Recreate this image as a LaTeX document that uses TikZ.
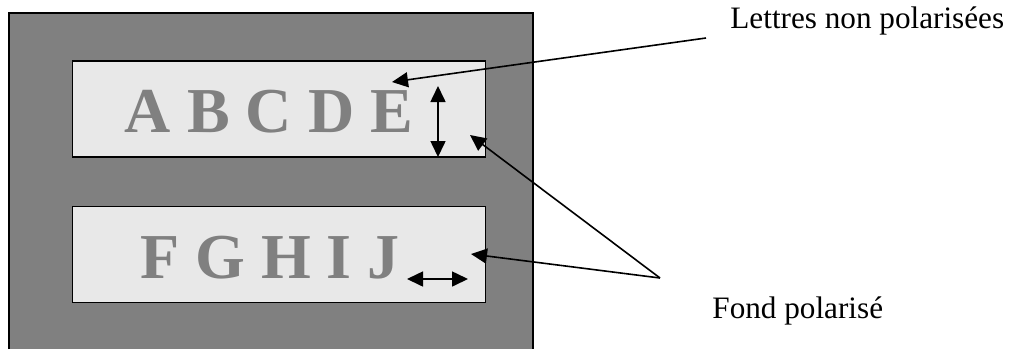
\documentclass[tikz,border=0pt]{standalone}
\usepackage{fontspec}
\setmainfont{Liberation Serif}
\usetikzlibrary{arrows.meta}
\definecolor{darkbg}{RGB}{128,128,128}
\definecolor{panelbg}{RGB}{232,232,232}
\definecolor{lettergray}{RGB}{128,128,128}
\tikzset{
  border/.style={draw=black, line width=0.75pt},
  panel/.style={border, fill=panelbg, minimum width=206.5pt, minimum height=48pt, inner sep=0pt},
  letters/.style={text=lettergray, font=\fontsize{32}{32}\selectfont\bfseries, inner sep=0pt, anchor=base},
  caption/.style={font=\fontsize{15.6}{16}\selectfont, inner sep=0pt, anchor=base west},
  tip/.style={-{Triangle[length=8pt,width=7.5pt]}, line width=0.8pt},
  dbl/.style={{Triangle[length=8pt,width=7.5pt]}-{Triangle[length=8pt,width=7.5pt]}, line width=0.8pt}
}
\begin{document}
\begin{tikzpicture}[x=0.5pt,y=-0.5pt]
\useasboundingbox (0,0) rectangle (1010,349);
% outer dark screen
\fill[darkbg] (9,13) rectangle (533,349);
\draw[border] (9,349) -- (9,13) -- (533,13) -- (533,349);
% panels
\node[panel] (toppanel) at (279,109) {};
\node[panel] (botpanel) at (279,254.5) {};
% letters
\node[letters] (abcde) at (269,132) {A B C D E};
\node[letters] (fghij) at (270,278) {F G H I J};
% polarisation arrows
\coordinate (vtop) at (438,86);
\coordinate (vbot) at (438,157);
\draw[dbl] (vtop) -- (vbot);
\coordinate (hleft) at (407,279);
\coordinate (hright) at (468,279);
\draw[dbl] (hleft) -- (hright);
% captions
\node[caption] (lettres) at (730,28) {Lettres non polarisées};
\node[caption] (fond) at (712,318) {Fond polarisé};
% pointers
\coordinate (lstart) at (706,38);
\coordinate (etip) at (392,82);
\draw[tip] (lstart) -- (etip);
\coordinate (apex) at (660,278);
\coordinate (toptip) at (470,135);
\coordinate (bottip) at (471,254);
\draw[tip] (apex) -- (toptip);
\draw[tip] (apex) -- (bottip);
\end{tikzpicture}
\end{document}
